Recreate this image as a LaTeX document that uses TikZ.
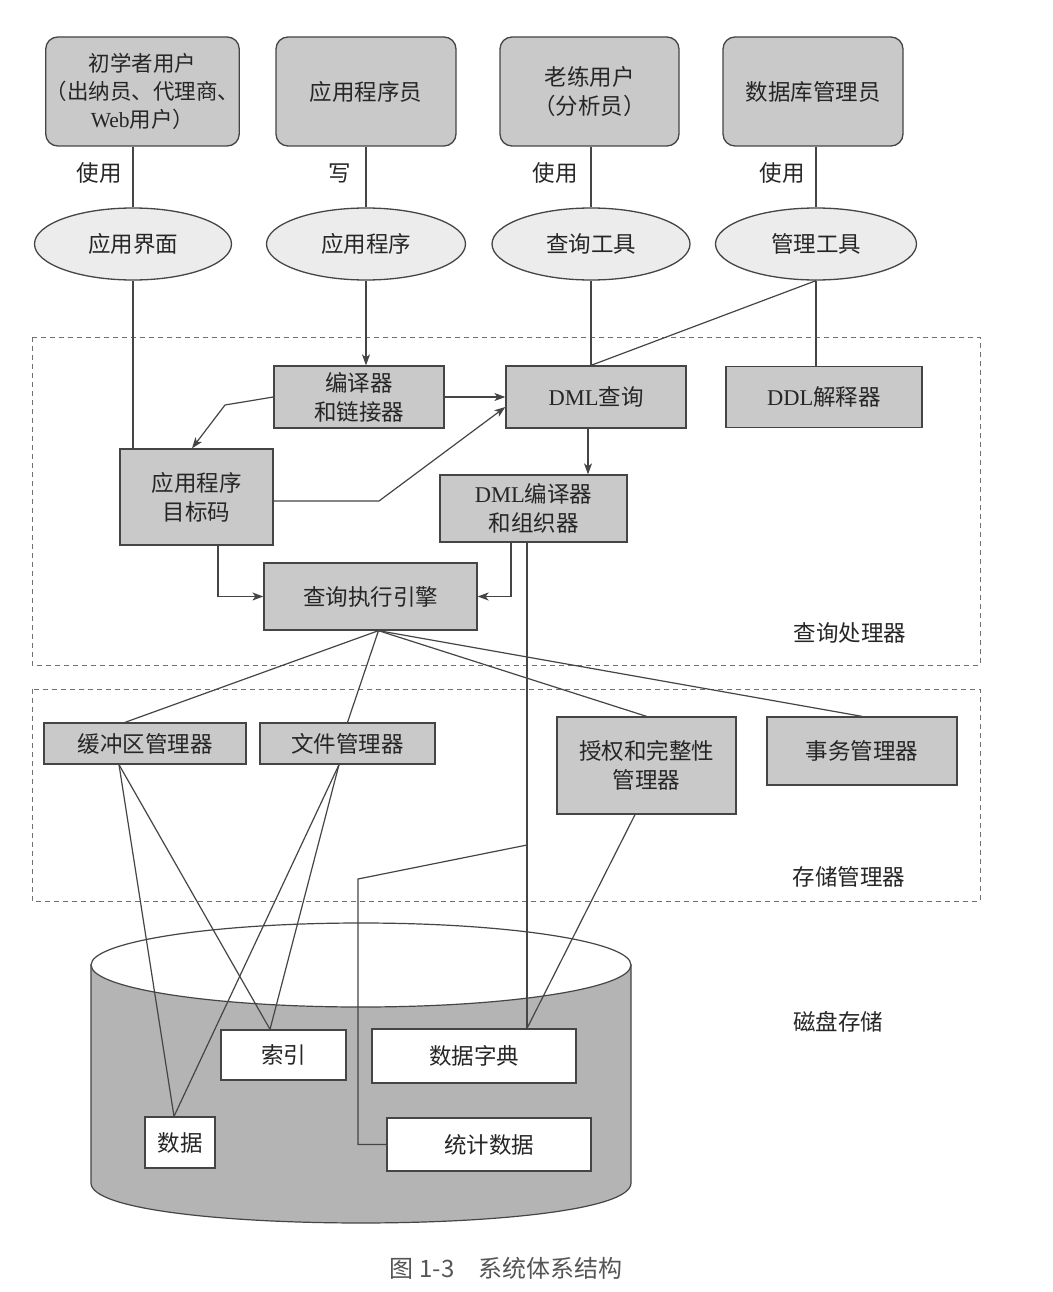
\documentclass[tikz,border=0pt]{standalone}
\usepackage{fontspec}
\setmainfont{Liberation Serif}
\newfontfamily\cjk{Noto Sans CJK SC}
\usetikzlibrary{arrows.meta,shapes.geometric,calc}
\definecolor{lc}{HTML}{454545}
\definecolor{boxg}{HTML}{C9C9C9}
\definecolor{ellg}{HTML}{ECECEC}
\definecolor{cylg}{HTML}{B4B4B4}
\definecolor{txtc}{HTML}{262626}
\definecolor{dashc}{HTML}{707070}
\definecolor{capc}{HTML}{555555}
\newcommand{\lat}[1]{{\rmfamily #1}}
\tikzset{
  base/.style={align=center, inner sep=0pt, text=txtc},
  user/.style={base, draw=lc, fill=boxg, line width=1.3pt, rounded corners=12pt},
  tool/.style={base, ellipse, draw=lc, fill=ellg, line width=1.3pt},
  proc/.style={base, draw=lc, fill=boxg, line width=1.3pt},
  store/.style={base, draw=lc, fill=white, line width=1.3pt},
  lbl/.style={base},
  sz/.style 2 args={minimum width=#1pt, minimum height=#2pt},
  ln/.style={draw=lc, line width=1.2pt},
  arr/.style={ln, -{Stealth[length=11pt, width=8pt, inset=3pt]}},
  region/.style={draw=dashc, line width=1pt, dash pattern=on 5pt off 4pt},
}
\begin{document}
\begin{tikzpicture}[x=1pt, y=-1pt, font=\cjk\fontsize{22.5}{29}\selectfont]
\useasboundingbox (0,0) rectangle (1052,1292);
\fill[white] (0,0) rectangle (1052,1292);

% regions
\draw[region] (32,337) rectangle (980,665);
\draw[region] (32,689) rectangle (980,901);

% cylinder
\filldraw[fill=cylg, draw=lc, line width=1.2pt] (91,965) -- (91,1183) .. controls (91,1236.3) and (631,1236.3) .. (631,1183) -- (631,965) -- cycle;
\filldraw[fill=white, draw=lc, line width=1.2pt] (361,965) ellipse [x radius=270, y radius=42];

% users
\node[user, sz={179}{109}, font=\cjk\fontsize{21.5}{28}\selectfont] (u1) at (142.5,91.5) {初学者用户\\（出纳员、代理商、\\\lat{Web}用户）};
\node[user, sz={180}{109}] (u2) at (366,91.5) {应用程序员};
\node[user, sz={179}{109}] (u3) at (589.5,91.5) {老练用户\\（分析员）};
\node[user, sz={180}{109}] (u4) at (813,91.5) {数据库管理员};

% tools
\node[tool, sz={197}{72}] (e1) at (133,244) {应用界面};
\node[tool, sz={199}{72}] (e2) at (366,244) {应用程序};
\node[tool, sz={198}{72}] (e3) at (591,244) {查询工具};
\node[tool, sz={201}{72}] (e4) at (816,244) {管理工具};

\node[lbl] (l1) at (99,173) {使用};
\node[lbl] (l2) at (340,173) {写};
\node[lbl] (l3) at (555,173) {使用};
\node[lbl] (l4) at (782,173) {使用};

% query processor
\node[proc, sz={170}{62}] (comp) at (359,397) {编译器\\和链接器};
\node[proc, sz={180}{62}] (dmlq) at (596,397) {\lat{DML}查询};
\node[proc, sz={196}{61}] (ddl) at (824,397) {\lat{DDL}解释器};
\node[proc, sz={153}{96}] (obj) at (196.5,497) {应用程序\\目标码};
\node[proc, sz={187}{67}] (dmlc) at (533.5,508.5) {\lat{DML}编译器\\和组织器};
\node[proc, sz={213}{67}] (qe) at (370.5,596.5) {查询执行引擎};

% storage manager
\node[proc, sz={202}{41}] (buf) at (145,743.5) {缓冲区管理器};
\node[proc, sz={175}{41}] (file) at (347.5,743.5) {文件管理器};
\node[proc, sz={179}{97}] (auth) at (646.5,765.5) {授权和完整性\\管理器};
\node[proc, sz={190}{68}] (tx) at (862,751) {事务管理器};

% disk
\node[store, sz={125}{50}] (idx) at (283.5,1055) {索引};
\node[store, sz={204}{54}] (dict) at (474,1056) {数据字典};
\node[store, sz={70}{51}] (data) at (180,1142.5) {数据};
\node[store, sz={204}{53}] (stat) at (489,1144.5) {统计数据};

\node[lbl] (qpl) at (850,633) {查询处理器};
\node[lbl] (sml) at (849,877) {存储管理器};
\node[lbl] (dsl) at (838,1022) {磁盘存储};
\node[base, text=capc, font=\cjk\fontsize{24}{28}\selectfont] (cap) at (506,1268) {图\hspace{6pt}1-3\hspace{24pt}系统体系结构};

% connectors: users to tools
\draw[ln] (e1.north |- u1.south) -- (e1.north);
\draw[ln] (e2.north |- u2.south) -- (e2.north);
\draw[ln] (e3.north |- u3.south) -- (e3.north);
\draw[ln] (e4.north |- u4.south) -- (e4.north);

% tools to query processor
\draw[ln] (e1.south) -- (e1.south |- obj.north);
\draw[arr] (e2.south) -- (e2.south |- comp.north);
\draw[ln] (e3.south) -- (e3.south |- dmlq.north);
\draw[ln] (e4.south) -- (e3.south |- dmlq.north);
\draw[ln] (e4.south) -- (e4.south |- ddl.north);

% inside query processor
\draw[arr] (comp.west) -- (225,405) -- ($(obj.north)+(-4.5,0)$);
\draw[arr] (comp.east) -- (comp.east -| dmlq.west);
\draw[arr] ($(obj.east)+(0,4)$) -- (379,501) -- ($(dmlq.west)+(0,10)$);
\coordinate (dqs) at ($(dmlq.south)+(-8,0)$);
\draw[arr] (dqs) -- (dqs |- dmlc.north);
\coordinate (obs) at ($(obj.south)+(21.5,0)$);
\draw[arr] (obs) |- (qe.west);
\coordinate (dcs1) at ($(dmlc.south)+(-22.5,0)$);
\draw[arr] (dcs1) |- (qe.east);

% to storage manager
\coordinate (qes) at ($(qe.south)+(8,0)$);
\draw[ln] (qes) -- ($(buf.north)+(-20,0)$);
\draw[ln] (qes) -- (file.north);
\draw[ln] (qes) -- (auth.north);
\draw[ln] (qes) -- (tx.north);

% to disk
\coordinate (dcs2) at ($(dmlc.south)+(-6.5,0)$);
\draw[ln] (dcs2) -- (dcs2 |- dict.north);
\coordinate (br) at (dcs2 |- 0,845);
\coordinate (bk) at (358,879);
\draw[ln] (br) -- (bk) |- (stat.west);
\draw[ln] ($(auth.south)+(-11.5,0)$) -- (dcs2 |- dict.north);
\coordinate (bfs) at ($(buf.south)+(-26,0)$);
\coordinate (fls) at ($(file.south)+(-8.5,0)$);
\coordinate (dtn) at ($(data.north)+(-6,0)$);
\coordinate (ixn) at ($(idx.north)+(-13.5,0)$);
\draw[ln] (bfs) -- (dtn);
\draw[ln] (bfs) -- (ixn);
\draw[ln] (fls) -- (dtn);
\draw[ln] (fls) -- (ixn);
\end{tikzpicture}
\end{document}
